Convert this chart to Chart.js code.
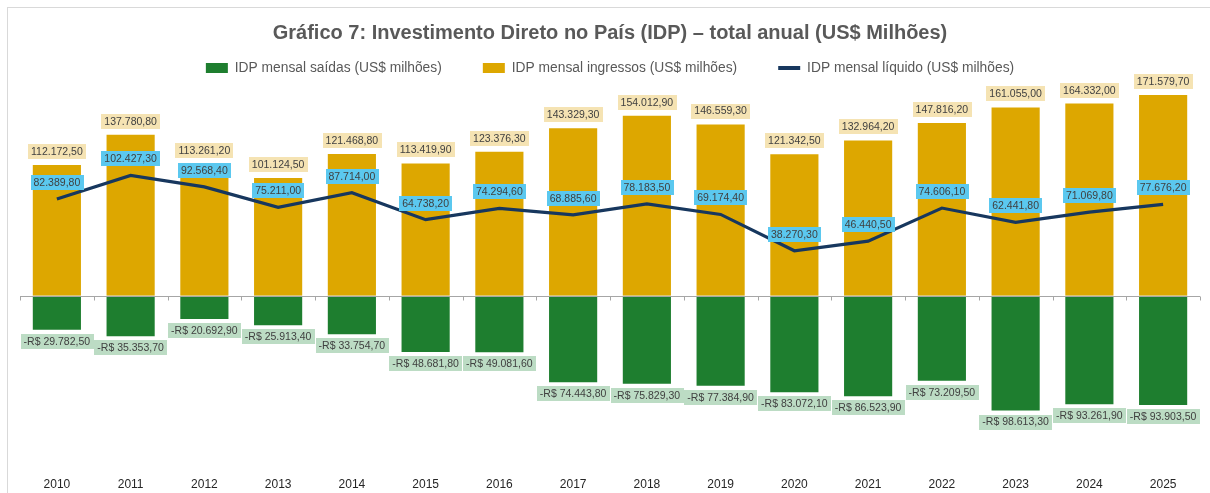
<!DOCTYPE html>
<html>
<head>
<meta charset="utf-8">
<script src="https://cdn.jsdelivr.net/npm/chart.js@4.4.1/dist/chart.umd.min.js"></script>
<style>
html, body { margin: 0; padding: 0; background: #fff; overflow: hidden; }
#wrap { position: relative; width: 1210px; height: 493px; }
#frame { position: absolute; left: 7px; top: 7px; width: 1230px; height: 520px; border: 1px solid #d9d9d9; }
canvas { position: absolute; left: 0; top: 0; }
</style>
</head>
<body>
<div id="wrap">
  <div id="frame"></div>
  <canvas id="grafico7" width="1210" height="493"></canvas>
</div>
<script>
var anos = ['2010', '2011', '2012', '2013', '2014', '2015', '2016', '2017',
            '2018', '2019', '2020', '2021', '2022', '2023', '2024', '2025'];
var saidas = [-29782.5, -35353.7, -20692.9, -25913.4, -33754.7, -48681.8, -49081.6, -74443.8,
              -75829.3, -77384.9, -83072.1, -86523.9, -73209.5, -98613.3, -93261.9, -93903.5];
var ingressos = [112172.5, 137780.8, 113261.2, 101124.5, 121468.8, 113419.9, 123376.3, 143329.3,
                 154012.9, 146559.3, 121342.5, 132964.2, 147816.2, 161055.0, 164332.0, 171579.7];
var liquido = [82389.8, 102427.3, 92568.4, 75211.0, 87714.0, 64738.2, 74294.6, 68885.6,
               78183.5, 69174.4, 38270.3, 46440.5, 74606.1, 62441.8, 71069.8, 77676.2];

// formato 112.172,50
function fmt(v) {
  var s = Math.abs(v).toFixed(2).split('.');
  var inteiro = s[0].replace(/\B(?=(\d{3})+(?!\d))/g, '.');
  return inteiro + ',' + s[1];
}

var fonteRotulo = '10.5px "Liberation Sans", Arial, sans-serif';
var espaco = '\u2003\u2003\u2005';

var rotulos = {
  id: 'rotulos',
  afterDatasetsDraw: function(chart) {
    var ctx = chart.ctx;
    var xs = chart.scales.x, ys = chart.scales.y;
    var area = chart.chartArea;
    var passo = xs.getPixelForValue(1) - xs.getPixelForValue(0);

    // linha do eixo no zero com marcas
    ctx.save();
    var y0 = Math.round(ys.getPixelForValue(0)) + 0.5;
    ctx.strokeStyle = '#a6a6a6';
    ctx.lineWidth = 1;
    ctx.beginPath();
    ctx.moveTo(area.left, y0);
    ctx.lineTo(area.right, y0);
    for (var i = 0; i <= anos.length; i++) {
      var px = Math.round(xs.getPixelForValue(0) - passo / 2 + i * passo) + 0.5;
      ctx.moveTo(px, y0);
      ctx.lineTo(px, y0 + 4);
    }
    ctx.stroke();

    ctx.font = fonteRotulo;
    ctx.textAlign = 'center';
    ctx.textBaseline = 'middle';

    function caixa(texto, x, cy, fundo) {
      var w = ctx.measureText(texto).width + 6;
      var h = 15;
      ctx.fillStyle = fundo;
      ctx.fillRect(Math.round(x - w / 2), Math.round(cy - h / 2), Math.round(w), h);
      ctx.fillStyle = '#404040';
      ctx.fillText(texto, x, cy + 0.5);
    }

    var mSaidas = chart.getDatasetMeta(0);
    var mIngr = chart.getDatasetMeta(1);
    var mLiq = chart.getDatasetMeta(2);

    mIngr.data.forEach(function(el, i) {
      caixa(fmt(ingressos[i]), el.x, el.y - 12.5, '#f5e3b3');
    });
    mSaidas.data.forEach(function(el, i) {
      caixa('-R$ ' + fmt(saidas[i]), el.x, el.y + 10.5, '#bcdcc4');
    });
    mLiq.data.forEach(function(el, i) {
      caixa(fmt(liquido[i]), el.x, el.y - 16.5, '#5bc8ef');
    });
    ctx.restore();
  }
};

var ctx = document.getElementById('grafico7').getContext('2d');
var grafico = new Chart(ctx, {
  type: 'bar',
  data: {
    labels: anos,
    datasets: [{
      label: 'IDP mensal saídas (US$ milhões)' + espaco,
      data: saidas,
      backgroundColor: '#1e7e2f',
      borderColor: 'rgba(255,255,255,0.45)',
      borderWidth: 1,
      order: 1
    }, {
      label: 'IDP mensal ingressos (US$ milhões)' + espaco,
      data: ingressos,
      backgroundColor: '#dda700',
      borderColor: 'rgba(255,255,255,0.45)',
      borderWidth: 1,
      order: 1
    }, {
      type: 'line',
      label: 'IDP mensal líquido (US$ milhões)',
      data: liquido,
      borderColor: '#17375e',
      backgroundColor: '#17375e',
      borderWidth: 3.2,
      pointRadius: 0,
      tension: 0,
      stack: 'liq',
      order: 0
    }]
  },
  options: {
    responsive: false,
    animation: false,
    devicePixelRatio: 1,
    layout: { padding: { left: 20, right: 10, top: 0, bottom: 0 } },
    datasets: { bar: { categoryPercentage: 1, barPercentage: 0.68, stack: 'idp' } },
    plugins: {
      title: {
        display: true,
        text: 'Gráfico 7: Investimento Direto no País (IDP) – total anual (US$ Milhões)',
        color: '#595959',
        font: { family: '"Liberation Sans", Arial, sans-serif', size: 20, weight: 'bold' },
        padding: { top: 21, bottom: 6 }
      },
      legend: {
        display: true,
        labels: {
          color: '#595959',
          font: { family: '"Liberation Sans", Arial, sans-serif', size: 13.8 },
          usePointStyle: true,
          pointStyleWidth: 22,
          boxHeight: 10,
          padding: 10,
          sort: function(a, b) { return a.datasetIndex - b.datasetIndex; },
          generateLabels: function(chart) {
            var itens = Chart.defaults.plugins.legend.labels.generateLabels(chart);
            itens.forEach(function(it) {
              if (it.datasetIndex < 2) { it.pointStyle = 'rect'; it.lineWidth = 0; }
              else { it.pointStyle = 'line'; it.lineWidth = 4; }
            });
            return itens;
          }
        }
      },
      tooltip: { enabled: false }
    },
    scales: {
      x: {
        stacked: true,
        grid: { display: false },
        border: { display: false },
        ticks: { color: '#262626', padding: 1.4, font: { family: '"Liberation Sans", Arial, sans-serif', size: 12 } },
        afterFit: function(scale) { scale.height = 25.4; }
      },
      y: {
        display: false,
        stacked: true,
        min: -146300,
        max: 179500
      }
    }
  },
  plugins: [rotulos]
});
</script>
</body>
</html>
